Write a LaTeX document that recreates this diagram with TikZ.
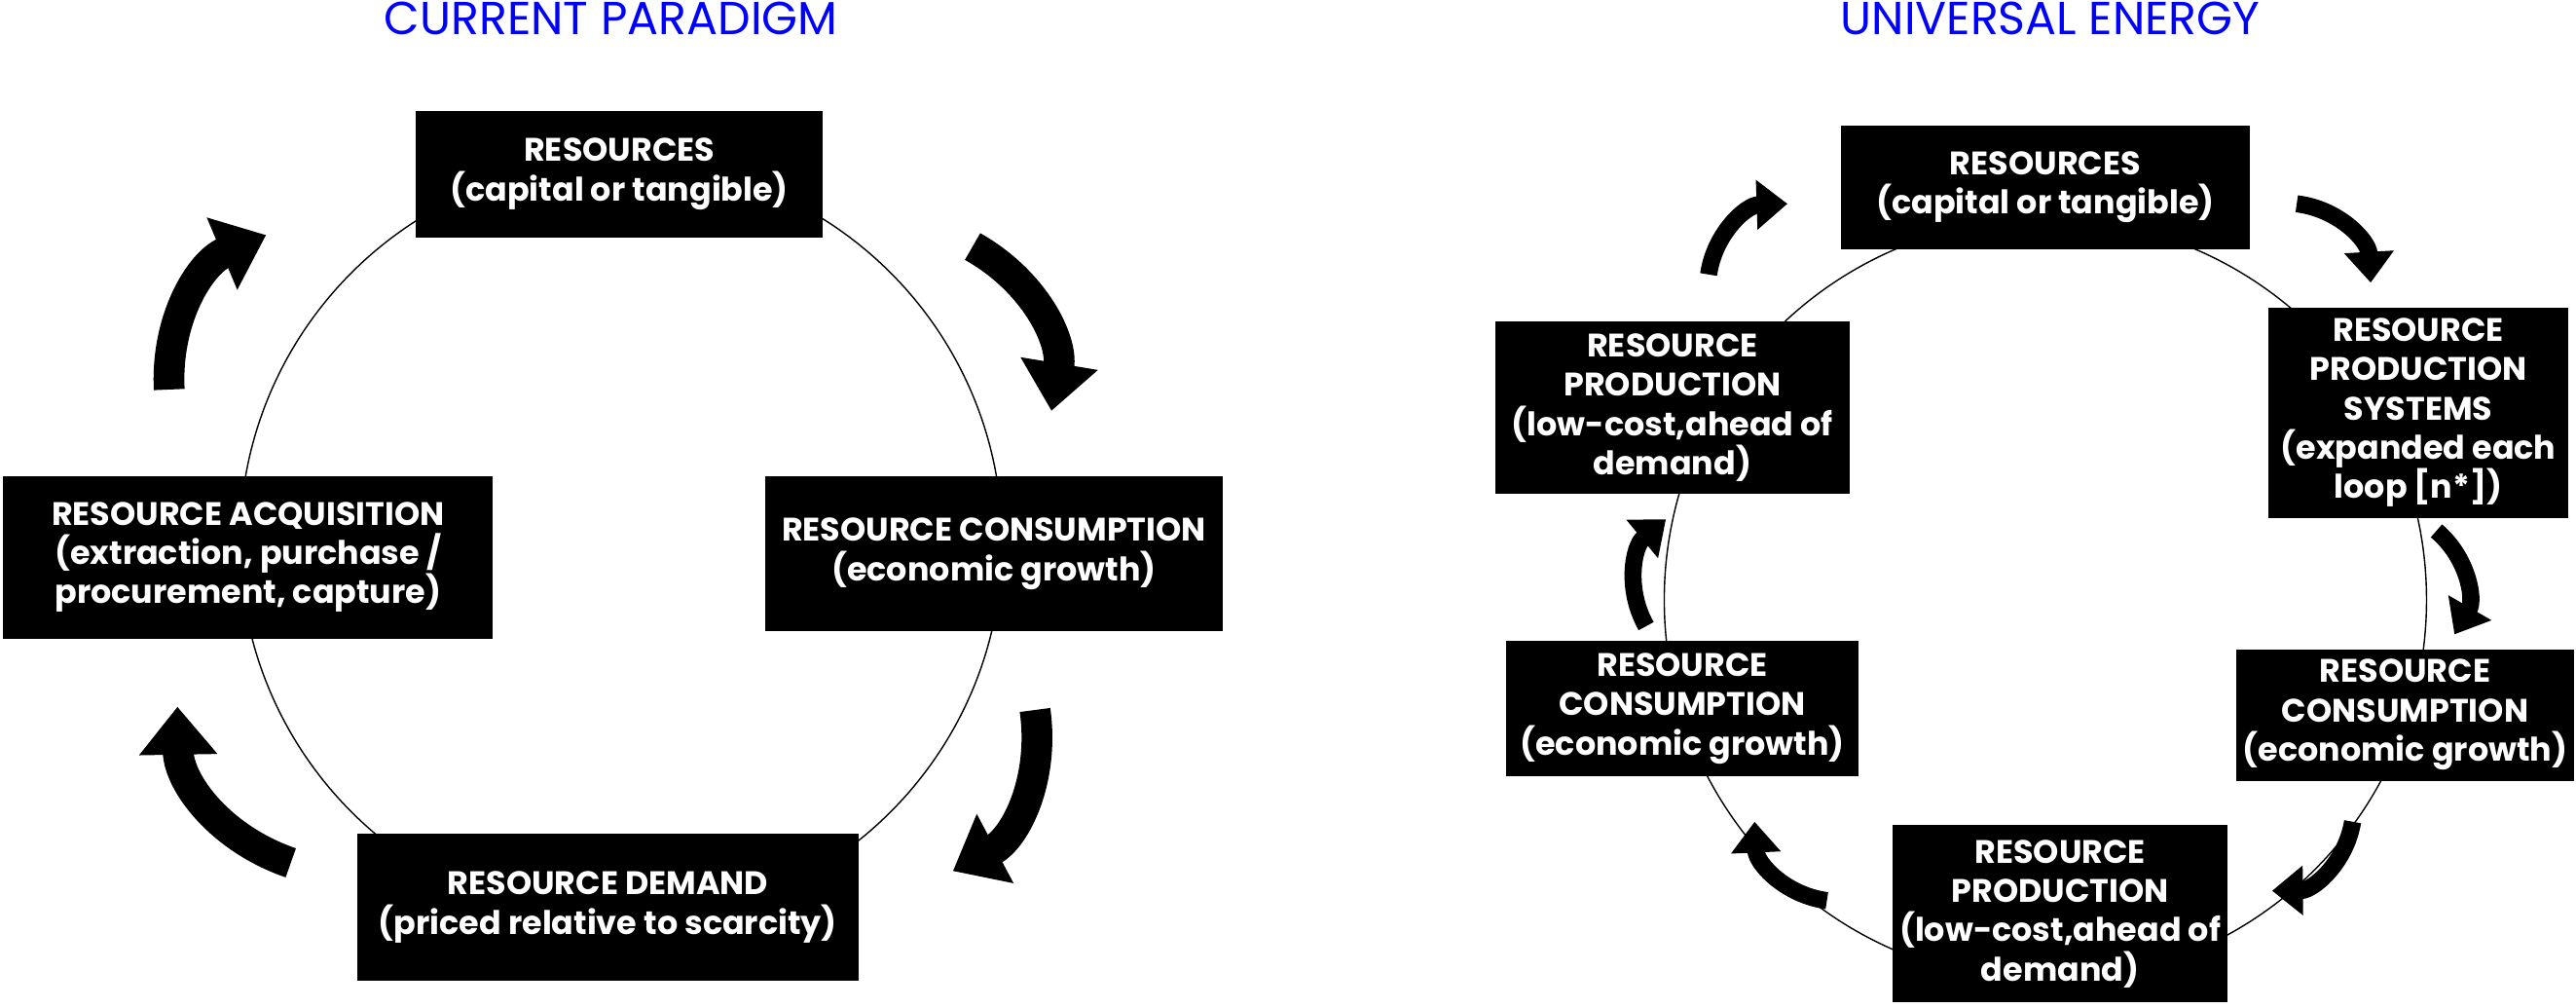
\documentclass[tikz,border=0pt]{standalone}
\usepackage{fontspec}
\setmainfont{Poppins}
\usetikzlibrary{arrows.meta}
\tikzset{
  stepbox/.style={fill=black,text=white,font=\bfseries\fontsize{9.5}{11.5}\selectfont,align=center,inner sep=2pt},
  titletext/.style={text=blue,font=\fontsize{13.5}{15}\selectfont},
  bigarrow/.style={line width=9pt,-{Triangle[length=14pt,width=22pt]}},
  smallarrow/.style={line width=5pt,-{Triangle[length=9pt,width=14pt]}}
}
\begin{document}
\begin{tikzpicture}[x=0.016875cm,y=-0.016875cm]
  \useasboundingbox (0,0) rectangle (1568,613);

  % current paradigm
  \node[titletext] (t1) at (372,11) {CURRENT PARADIGM};
  \draw[thin] (378,330) circle (232);
  \node[stepbox,minimum width=248*0.016875cm,minimum height=77*0.016875cm] (res) at (377,106) {RESOURCES\\(capital or tangible)};
  \node[stepbox,minimum width=279*0.016875cm,minimum height=94*0.016875cm] (con) at (605,337) {RESOURCE CONSUMPTION\\(economic growth)};
  \node[stepbox,minimum width=298*0.016875cm,minimum height=99*0.016875cm] (acq) at (151,339) {RESOURCE ACQUISITION\\(extraction, purchase /\\procurement, capture)};
  \node[stepbox,minimum width=305*0.016875cm,minimum height=89*0.016875cm] (dem) at (370,552) {RESOURCE DEMAND\\(priced relative to scarcity)};

  \coordinate (a1s) at (592,150); \coordinate (a1e) at (640,250);
  \coordinate (a2s) at (630,432); \coordinate (a2e) at (580,530);
  \coordinate (a3s) at (177,525); \coordinate (a3e) at (108,430);
  \coordinate (a4s) at (103,237); \coordinate (a4e) at (162,143);
  \draw[bigarrow] (a1s) to[bend left=35] (a1e);
  \draw[bigarrow] (a2s) to[bend left=35] (a2e);
  \draw[bigarrow] (a3s) to[bend left=35] (a3e);
  \draw[bigarrow] (a4s) to[bend left=35] (a4e);

  % universal energy
  \node[titletext] (t2) at (1248,11) {UNIVERSAL ENERGY};
  \draw[thin] (1245,365) circle (232);
  \node[stepbox,minimum width=249*0.016875cm,minimum height=75*0.016875cm] (ures) at (1245,114) {RESOURCES\\(capital or tangible)};
  \node[stepbox,minimum width=182*0.016875cm,minimum height=128*0.016875cm] (sys) at (1472,251) {RESOURCE\\PRODUCTION\\SYSTEMS\\(expanded each\\loop [n*])};
  \node[stepbox,minimum width=202*0.016875cm,minimum height=80*0.016875cm] (rcon) at (1464,435) {RESOURCE\\CONSUMPTION\\(economic growth)};
  \node[stepbox,minimum width=201*0.016875cm,minimum height=108*0.016875cm] (bprod) at (1254,556) {RESOURCE\\PRODUCTION\\(low-cost,ahead of\\demand)};
  \node[stepbox,minimum width=214*0.016875cm,minimum height=82*0.016875cm] (lcon) at (1024,431) {RESOURCE\\CONSUMPTION\\(economic growth)};
  \node[stepbox,minimum width=216*0.016875cm,minimum height=105*0.016875cm] (lprod) at (1018,248) {RESOURCE\\PRODUCTION\\(low-cost,ahead of\\demand)};

  \coordinate (b1s) at (1040,167); \coordinate (b1e) at (1088,124);
  \coordinate (b2s) at (1398,124); \coordinate (b2e) at (1443,172);
  \coordinate (b3s) at (1483,323); \coordinate (b3e) at (1494,386);
  \coordinate (b4s) at (1432,500); \coordinate (b4e) at (1383,542);
  \coordinate (b5s) at (1112,548); \coordinate (b5e) at (1068,500);
  \coordinate (b6s) at (1002,381); \coordinate (b6e) at (1014,316);
  \foreach \s/\e in {b1s/b1e,b2s/b2e,b3s/b3e,b4s/b4e,b5s/b5e,b6s/b6e}
    \draw[smallarrow] (\s) to[bend left=40] (\e);
\end{tikzpicture}
\end{document}
